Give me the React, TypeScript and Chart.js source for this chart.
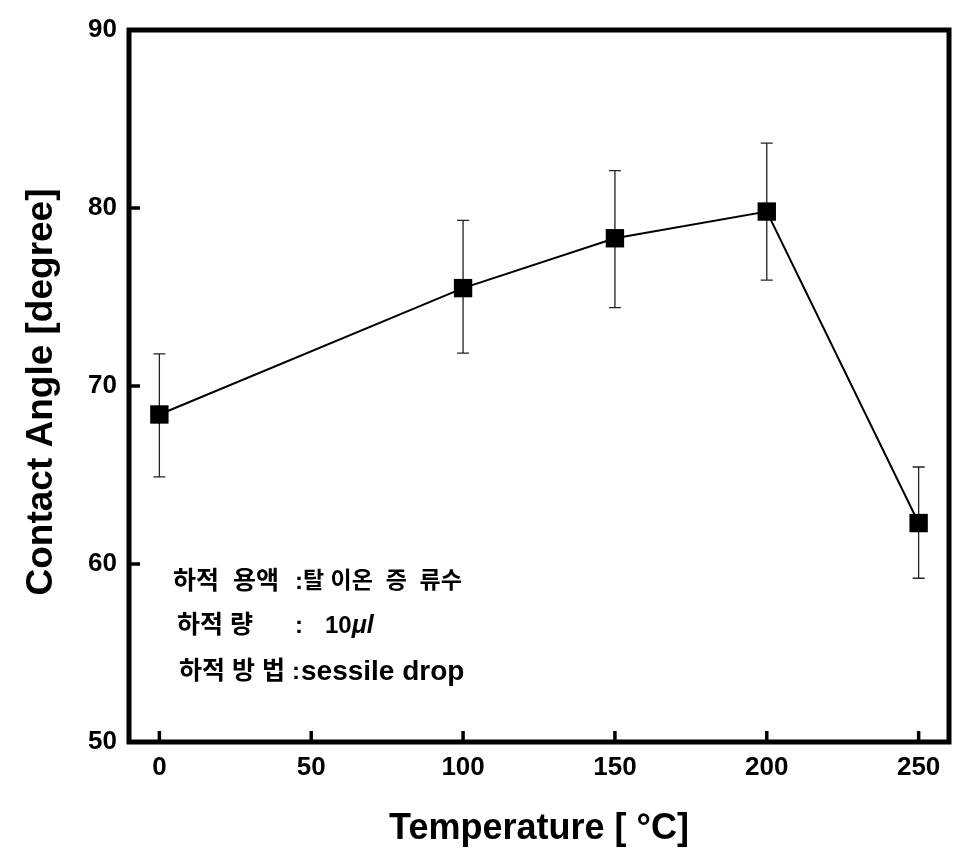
import React, { useEffect, useRef } from "react";
import { Chart, registerables } from "chart.js";

Chart.register(...registerables);

// ---- data ----
const temperatures = [0, 100, 150, 200, 250];
const contactAngles = [68.4, 75.5, 78.3, 79.8, 62.3];
const errorHigh = [71.8, 79.3, 82.1, 83.65, 65.45];
const errorLow = [64.9, 71.85, 74.4, 75.95, 59.2];
const xTickValues = [0, 50, 100, 150, 200, 250];
const yTickValues = [50, 60, 70, 80, 90];
const xTitle = "Temperature [ °C]";
const yTitle = "Contact Angle [degree]";
const noteLabels = ["하적  용액", "하적 량", "하적 방 법"];
const noteValues = ["탈 이온  증  류수", "10μl", "sessile drop"];

const LATIN = '"Liberation Sans", Arial, sans-serif';
const KOREAN = '"Liberation Sans", "Noto Sans CJK KR", sans-serif';

const decorations = {
  id: "decorations",
  beforeDatasetsDraw(chart: any) {
    const { ctx } = chart;
    const xs = chart.scales.x;
    const ys = chart.scales.y;
    ctx.save();
    ctx.strokeStyle = "#222";
    ctx.lineWidth = 1.3;
    temperatures.forEach((t, i) => {
      const px = xs.getPixelForValue(t);
      const top = ys.getPixelForValue(errorHigh[i]);
      const bot = ys.getPixelForValue(errorLow[i]);
      ctx.beginPath();
      ctx.moveTo(px, top);
      ctx.lineTo(px, bot);
      ctx.moveTo(px - 6, top);
      ctx.lineTo(px + 6, top);
      ctx.moveTo(px - 6, bot);
      ctx.lineTo(px + 6, bot);
      ctx.stroke();
    });
    ctx.restore();
  },
  afterDraw(chart: any) {
    const { ctx, chartArea } = chart;
    const { left, right, top, bottom } = chartArea;
    const xs = chart.scales.x;
    const ys = chart.scales.y;
    ctx.save();
    // frame
    ctx.strokeStyle = "#000";
    ctx.lineWidth = 5;
    ctx.strokeRect(left, top, right - left, bottom - top);
    // inward ticks
    ctx.lineWidth = 3.5;
    xTickValues.forEach((v) => {
      const px = xs.getPixelForValue(v);
      ctx.beginPath();
      ctx.moveTo(px, bottom);
      ctx.lineTo(px, bottom - 11);
      ctx.stroke();
    });
    yTickValues.forEach((v) => {
      const py = ys.getPixelForValue(v);
      ctx.beginPath();
      ctx.moveTo(left, py);
      ctx.lineTo(left + 11, py);
      ctx.stroke();
    });
    // titles
    ctx.fillStyle = "#000";
    ctx.textAlign = "center";
    ctx.textBaseline = "middle";
    ctx.font = `bold 36px ${LATIN}`;
    ctx.fillText(xTitle, (left + right) / 2, 829);
    ctx.save();
    ctx.translate(42, 392);
    ctx.rotate(-Math.PI / 2);
    ctx.font = `bold 37px ${LATIN}`;
    ctx.fillText(yTitle, 0, 0);
    ctx.restore();
    // notes
    ctx.textAlign = "left";
    ctx.textBaseline = "middle";
    const rowY = [582, 626, 672];
    const labelX = [left + 44, left + 48, left + 50];
    const colonX = [left + 166, left + 166, left + 163];
    const valueX = [left + 174, left + 196, left + 172];
    const valueFont = [
      `bold 23px ${KOREAN}`,
      `bold 24px ${LATIN}`,
      `bold 28px ${LATIN}`,
    ];
    noteLabels.forEach((lab, i) => {
      ctx.font = `bold 25px ${KOREAN}`;
      ctx.fillText(lab, labelX[i], rowY[i]);
      ctx.font = `bold 24px ${LATIN}`;
      ctx.fillText(":", colonX[i], rowY[i]);
      const val = noteValues[i];
      if (i === 1) {
        const num = val.replace(/[^0-9]/g, "");
        const unit = val.replace(/[0-9]/g, "");
        ctx.font = `bold 24px ${LATIN}`;
        ctx.fillText(num, valueX[i], rowY[i]);
        const w = ctx.measureText(num).width;
        ctx.font = `italic bold 25px ${LATIN}`;
        ctx.fillText(unit, valueX[i] + w, rowY[i]);
      } else {
        ctx.font = valueFont[i];
        ctx.fillText(val, valueX[i], rowY[i]);
      }
    });
    ctx.restore();
  },
};

export default function App() {
  const ref = useRef<HTMLCanvasElement | null>(null);
  useEffect(() => {
    document.body.style.margin = "0";
    const canvas = ref.current;
    if (!canvas) return;
    const tickFont = { family: LATIN, size: 26, weight: "bold" as const };
    const chart = new Chart(canvas, {
      type: "line",
      data: {
        datasets: [
          {
            data: temperatures.map((t, i) => ({ x: t, y: contactAngles[i] })),
            borderColor: "#000",
            backgroundColor: "#000",
            borderWidth: 2,
            pointStyle: "rect",
            pointRadius: 13,
            pointBorderWidth: 0,
            tension: 0,
          },
        ],
      },
      options: {
        responsive: false,
        animation: false,
        devicePixelRatio: 1,
        layout: { padding: { top: 30, right: 8, left: 0, bottom: 0 } },
        plugins: {
          legend: { display: false },
          tooltip: { enabled: false },
        },
        scales: {
          x: {
            type: "linear",
            min: -10,
            max: 260,
            grid: { display: false, drawTicks: false },
            border: { display: false },
            afterBuildTicks: (s: any) => {
              s.ticks = xTickValues.map((v) => ({ value: v }));
            },
            afterFit: (s: any) => {
              s.height = 108;
            },
            ticks: {
              font: tickFont,
              color: "#000",
              padding: 10,
              maxRotation: 0,
              autoSkip: false,
            },
          },
          y: {
            type: "linear",
            min: 50,
            max: 90,
            grid: { display: false, drawTicks: false },
            border: { display: false },
            afterBuildTicks: (s: any) => {
              s.ticks = yTickValues.map((v) => ({ value: v }));
            },
            afterFit: (s: any) => {
              s.width = 129;
            },
            ticks: {
              font: tickFont,
              color: "#000",
              padding: 12,
              autoSkip: false,
            },
          },
        },
      },
      plugins: [decorations],
    });
    return () => chart.destroy();
  }, []);
  return (
    <canvas
      ref={ref}
      width={962}
      height={850}
      style={{ display: "block", width: 962, height: 850 }}
    />
  );
}
